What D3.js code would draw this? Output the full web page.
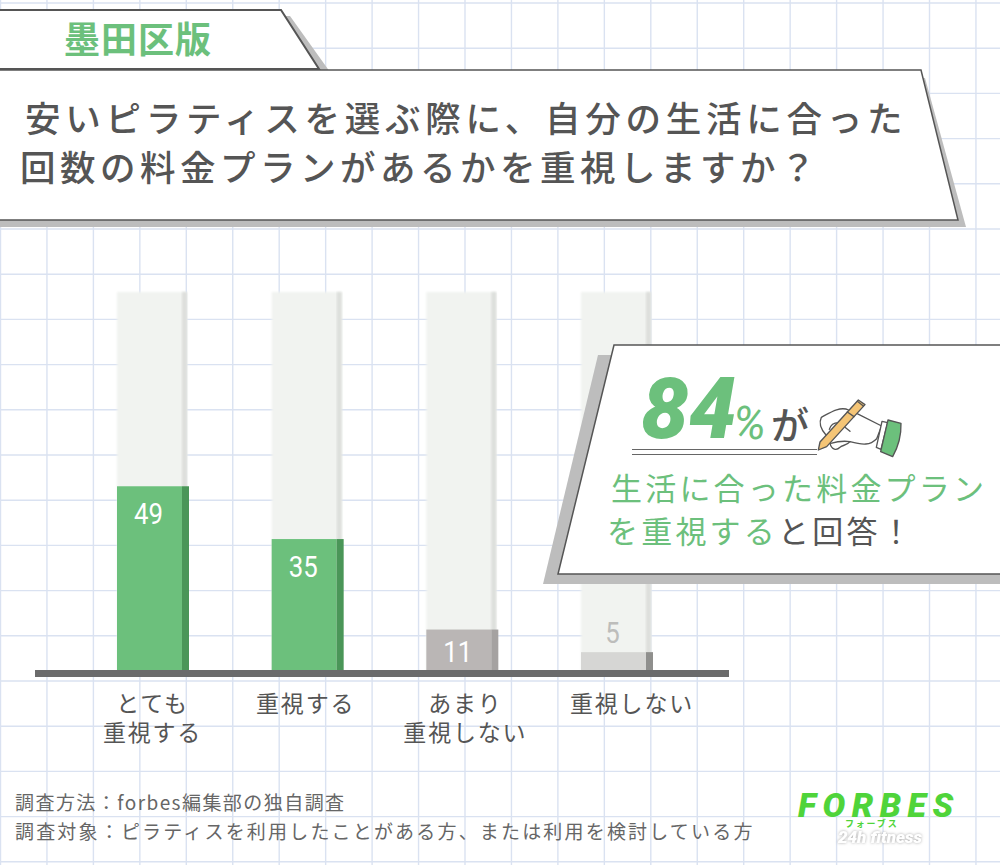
<!DOCTYPE html>
<html lang="ja">
<head>
<meta charset="utf-8">
<script src="https://cdn.jsdelivr.net/npm/d3@7"></script>
<style>
html,body{margin:0;padding:0;background:#fff;}
svg{display:block;}
text{font-family:"Noto Sans CJK JP","Noto Sans",sans-serif;}
</style>
</head>
<body>
<svg id="c" width="1000" height="865"></svg>
<script>
const categories = ["とても\n重視する", "重視する", "あまり\n重視しない", "重視しない"];
const values = [49, 35, 11, 5];
const highlighted = [true, true, false, false];
const tabTitle = "墨田区版";
const titleLines = ["安いピラティスを選ぶ際に、自分の生活に合った", "回数の料金プランがあるかを重視しますか？"];
const notes = ["調査方法：forbes編集部の独自調査", "調査対象：ピラティスを利用したことがある方、または利用を検討している方"];

const GREEN = "#6cc07c", DARK = "#555", SHADOW = "#bdbdbd";
const svg = d3.select("#c");

const defs = svg.append("defs");
defs.append("filter").attr("id", "soft").attr("x", "-10%").attr("y", "-5%").attr("width", "120%").attr("height", "110%")
  .append("feGaussianBlur").attr("stdDeviation", 1.2);
defs.append("filter").attr("id", "glow").attr("x", "-20%").attr("y", "-40%").attr("width", "140%").attr("height", "180%")
  .append("feDropShadow").attr("dx", 0).attr("dy", 0).attr("stdDeviation", 1.4).attr("flood-color", "#a8a8a8");

// notebook grid
const grid = svg.append("g").attr("fill", "none").attr("stroke", "#dae2f1").attr("stroke-width", 1.4);
d3.range(0.5, 1000, 46.45).forEach(x => grid.append("line").attr("x1", x).attr("x2", x).attr("y1", 0).attr("y2", 865));
d3.range(3, 865, 45.2).forEach(y => grid.append("line").attr("x1", 0).attr("x2", 1000).attr("y1", y).attr("y2", y));

// scales
const x = d3.scaleBand().domain(categories).range([117, 646]).paddingInner(1 - 65 / 154.67);
const y = d3.scaleLinear().domain([0, 100]).range([671, 294]);

// bars
const bars = svg.append("g").selectAll("g").data(categories).join("g");
bars.append("rect").attr("x", d => x(d)).attr("y", y(100) - 2).attr("width", x.bandwidth() + 5)
  .attr("height", y(0) - y(100) + 2).attr("fill", "#f1f3f0").attr("filter", "url(#soft)");
bars.append("rect").attr("x", d => x(d) + x.bandwidth()).attr("y", y(100) - 2).attr("width", 5)
  .attr("height", y(0) - y(100) + 2).attr("fill", "#dddfdc").attr("filter", "url(#soft)");
bars.append("rect").attr("x", d => x(d)).attr("y", (d, i) => y(values[i])).attr("width", x.bandwidth())
  .attr("height", (d, i) => y(0) - y(values[i]))
  .attr("fill", (d, i) => highlighted[i] ? GREEN : (values[i] > 5 ? "#bab6b5" : "#d6d6d4"));
bars.append("rect").attr("x", d => x(d) + x.bandwidth()).attr("y", (d, i) => y(values[i])).attr("width", 7)
  .attr("height", (d, i) => y(0) - y(values[i]))
  .attr("fill", (d, i) => highlighted[i] ? "#4a9658" : (values[i] > 5 ? "#a5a2a1" : "#8f8f8d"));
bars.append("text").attr("x", d => x(d) + x.bandwidth() / 2 - 1)
  .attr("y", (d, i) => values[i] > 5 ? y(values[i]) + (values[i] > 11 ? 38 : 32) : y(values[i]) - 9)
  .attr("text-anchor", "middle").attr("font-size", 30)
  .style("font-family", "Roboto,sans-serif")
  .attr("textLength", (d, i) => String(values[i]).length * 14.5).attr("lengthAdjust", "spacingAndGlyphs")
  .attr("fill", (d, i) => values[i] > 5 ? "#fff" : "#bdbdbb")
  .text((d, i) => values[i]);

// baseline
svg.append("rect").attr("x", 35).attr("y", 670).attr("width", 694).attr("height", 7).attr("fill", "#6b6b6b");

// category axis
const labelShift = [3, 1.5, 6.5, 18.5];
const axis = svg.append("g").attr("transform", `translate(0,677)`)
  .call(d3.axisBottom(x).tickSize(0).tickFormat(""));
axis.select(".domain").remove();
axis.selectAll(".tick").each(function (d, i) {
  const t = d3.select(this).select("text").attr("y", 0).attr("dy", null)
    .attr("text-anchor", "middle").attr("font-size", 23).attr("letter-spacing", 1.8)
    .attr("fill", DARK).style("font-family", null);
  d.split("\n").forEach((line, k) =>
    t.append("tspan").attr("x", labelShift[i]).attr("y", 35 + k * 29).text(line));
});

// tab + title panels
svg.append("polygon").attr("points", "0,16 290,16 330,72 0,72").attr("fill", SHADOW);
svg.append("polygon").attr("points", "-5,10 281,10 319,69 -5,69").attr("fill", "#fff").attr("stroke", DARK).attr("stroke-width", 2);
svg.append("text").attr("x", 64).attr("y", 53).attr("font-size", 36).attr("font-weight", 700)
  .attr("letter-spacing", 1).attr("fill", GREEN).text(tabTitle);

svg.append("polygon").attr("points", "0,78 925,78 966,227 0,227").attr("fill", SHADOW);
svg.append("polygon").attr("points", "-5,70 921,70 958,220 -5,220").attr("fill", "#fff").attr("stroke", DARK).attr("stroke-width", 1.5);
titleLines.forEach((line, i) => svg.append("text").attr("x", i ? 20 : 25).attr("y", i ? 181 : 132)
  .attr("font-size", 35.5).attr("font-weight", 500).attr("letter-spacing", i ? 4.5 : 4.75).attr("fill", DARK).text(line));

// callout
svg.append("polygon").attr("points", "598,355 1005,355 1005,584 543,584").attr("fill", SHADOW);
svg.append("polygon").attr("points", "614,345 1005,345 1005,574 558,574").attr("fill", "#fff").attr("stroke", DARK).attr("stroke-width", 1.5);
svg.append("text").attr("x", 641).attr("y", 438).attr("font-size", 85).attr("font-style", "italic").attr("font-weight", 900)
  .style("font-family", "Roboto,sans-serif").attr("fill", GREEN).text("84");
svg.append("text").attr("x", 733).attr("y", 439).attr("font-size", 46).attr("font-style", "italic").attr("font-weight", 400)
  .style("font-family", "Roboto,sans-serif").attr("fill", GREEN).text("%");
svg.append("text").attr("x", 771).attr("y", 439).attr("font-size", 38).attr("font-weight", 500).attr("fill", DARK).text("が");
svg.append("path").attr("d", "M632,449.5H817M632,454.5H817").attr("stroke", "#666").attr("stroke-width", 1.2).attr("fill", "none");

// pen and hand (decoration)
const hand = svg.append("g").attr("transform", "translate(810,390) scale(0.3333)")
  .attr("stroke", "#555").attr("stroke-width", 4).attr("stroke-linejoin", "round").attr("stroke-linecap", "round");
hand.append("path").attr("d", "M48,135 C30,115 28,95 34,82 C60,68 90,48 116,60 L140,70 L215,108 L200,146 C180,166 160,166 120,155 C110,168 95,165 90,172 C80,182 65,180 60,160 Z")
  .attr("fill", "#fff");
hand.append("path").attr("d", "M58,118 C62,105 72,97 88,98 M62,160 C80,155 100,152 120,155 M105,112 L120,124").attr("fill", "none");
hand.append("path").attr("d", "M216,94 L199,172 L213,178 L233,98 Z").attr("fill", "#fff");
hand.append("path").attr("d", "M234,90 L273,100 C274,135 265,170 248,200 L212,185 Z").attr("fill", GREEN);
hand.append("path").attr("d", "M25,180 L30,156 L145,30 L165,44 L50,170 Z").attr("fill", "#f5c576");
hand.append("path").attr("d", "M112,66 L132,80 M142,34 L160,48").attr("fill", "none");

svg.append("text").attr("x", 611).attr("y", 500).attr("font-size", 31).attr("letter-spacing", 3.2).attr("fill", GREEN).text("生活に合った料金プラン");
const l2 = svg.append("text").attr("x", 607).attr("y", 543).attr("font-size", 31).attr("letter-spacing", 3.2);
l2.append("tspan").attr("fill", GREEN).text("を重視する");
l2.append("tspan").attr("fill", DARK).text("と回答！");

// notes
notes.forEach((n, i) => svg.append("text").attr("x", 15).attr("y", 810 + i * 29).attr("font-size", 19)
  .attr("letter-spacing", i ? 2.18 : 1.45).attr("fill", "#666").text(n));

// logo
svg.append("text").attr("x", 798).attr("y", 817).attr("font-size", 34).attr("font-weight", 900).attr("font-style", "italic")
  .attr("letter-spacing", 6.5).style("font-family", "Roboto,sans-serif").attr("fill", "#4fd43a").text("FORBES");
svg.append("text").attr("x", 845).attr("y", 827).attr("font-size", 9).attr("font-weight", 700).attr("letter-spacing", 1.8)
  .attr("fill", "#4fd43a").text("フォーブス");
svg.append("text").attr("x", 838).attr("y", 843).attr("font-size", 17).attr("font-weight", 900).attr("font-style", "italic")
  .style("font-family", "Roboto,sans-serif").attr("fill", "#fff").attr("filter", "url(#glow)").text("24h fitness");
</script>
</body>
</html>
